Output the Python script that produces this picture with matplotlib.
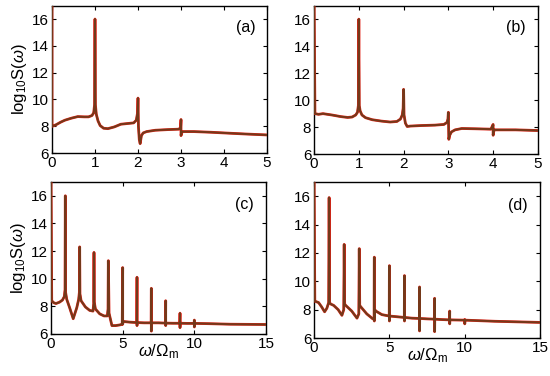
import matplotlib
matplotlib.use('Agg')
import matplotlib.pyplot as plt

plt.rcParams['font.family'] = ['Liberation Sans', 'DejaVu Sans']
plt.rcParams['mathtext.fontset'] = 'custom'
plt.rcParams['mathtext.rm'] = 'Liberation Sans'
plt.rcParams['mathtext.it'] = 'Liberation Sans:italic'

# log10 S(w)
a_x = [0, 0, 0.05, 0.1, 0.2, 0.3, 0.45, 0.6, 0.75, 0.85, 0.93, 0.97, 0.99, 1.0, 1.01, 1.03, 1.07,
       1.12, 1.2, 1.3, 1.45, 1.6, 1.75, 1.9, 1.96, 1.99, 2.0, 2.01, 2.03, 2.05, 2.08, 2.12, 2.2,
       2.4, 2.7, 2.95, 2.99, 3.0, 3.0, 3.02, 3.05, 3.3, 3.7, 4.0, 4.5, 5.0]
a_y = [17.5, 8.0, 8.05, 8.12, 8.3, 8.45, 8.6, 8.72, 8.7, 8.7, 8.8, 9.0, 9.6, 16.0, 9.6, 8.9, 8.4,
       8.05, 7.85, 7.82, 7.95, 8.15, 8.2, 8.25, 8.45, 9.0, 10.1, 8.0, 7.0, 6.7, 7.3, 7.5, 7.6,
       7.7, 7.75, 7.78, 7.9, 8.5, 7.3, 7.55, 7.6, 7.6, 7.55, 7.5, 7.42, 7.35]

b_x = [0, 0.02, 0.1, 0.2, 0.4, 0.6, 0.75, 0.85, 0.93, 0.97, 0.99, 1.0, 1.01, 1.03, 1.07, 1.15,
       1.3, 1.5, 1.7, 1.85, 1.93, 1.97, 1.99, 2.0, 2.01, 2.04, 2.08, 2.15, 2.4, 2.7, 2.9, 2.97,
       2.99, 3.0, 3.01, 3.03, 3.07, 3.15, 3.3, 3.6, 3.95, 4.0, 4.0, 4.02, 4.05, 4.5, 5.0]
b_y = [17.5, 9.0, 8.95, 9.0, 8.9, 8.78, 8.72, 8.75, 8.9, 9.1, 9.6, 16.0, 9.6, 9.2, 8.9, 8.7,
       8.55, 8.45, 8.38, 8.42, 8.6, 8.9, 9.4, 10.8, 8.9, 8.3, 8.05, 8.08, 8.12, 8.15, 8.2, 8.35,
       8.6, 9.1, 7.1, 7.4, 7.65, 7.8, 7.9, 7.88, 7.85, 8.2, 7.4, 7.8, 7.8, 7.8, 7.75]

c_x = [0, 0.05, 0.2, 0.35, 0.6, 0.8, 0.93, 0.98, 1.0, 1.02, 1.1, 1.3, 1.55, 1.8, 1.93, 1.98,
       2.0, 2.02, 2.1, 2.4, 2.7, 2.93, 2.98, 3.0, 3.02, 3.1, 3.4, 3.7, 3.93, 3.98, 4.0, 4.05,
       4.25, 4.5, 4.8, 4.97, 5.0, 5.0, 5.03, 5.5, 5.99, 6.0, 6.0, 6.01, 6.5, 6.99, 7.0, 7.0,
       7.01, 7.5, 7.99, 8.0, 8.0, 8.01, 8.5, 8.99, 9.0, 9.0, 9.01, 9.5, 9.99, 10.0, 10.0, 10.01,
       11.0, 12.5, 15.0]
c_y = [17.5, 8.4, 8.25, 8.2, 8.3, 8.45, 8.7, 9.2, 16.0, 9.0, 8.5, 7.9, 7.1, 7.9, 8.5, 9.0,
       12.3, 8.9, 8.4, 7.95, 7.7, 7.65, 8.2, 11.9, 8.3, 7.8, 7.45, 7.3, 7.3, 7.8, 11.3, 7.5,
       6.6, 6.6, 6.65, 6.7, 10.8, 6.7, 6.9, 6.85, 6.82, 10.1, 6.6, 6.82, 6.8, 6.8, 9.3, 6.2,
       6.8, 6.8, 6.78, 8.4, 6.6, 6.78, 6.77, 6.77, 7.5, 6.45, 6.77, 6.76, 6.76, 7.0, 6.5, 6.76,
       6.74, 6.7, 6.68]

d_x = [0, 0.05, 0.3, 0.5, 0.7, 0.85, 0.97, 1.0, 1.03, 1.1, 1.3, 1.6, 1.85, 1.97, 2.0, 2.03,
       2.1, 2.5, 2.85, 2.97, 3.0, 3.03, 3.1, 3.5, 3.9, 3.99, 4.0, 4.0, 4.03, 4.1, 4.5, 4.99, 5.0,
       5.0, 5.01, 5.5, 5.99, 6.0, 6.0, 6.01, 6.5, 6.99, 7.0, 7.0, 7.01, 7.5, 7.99, 8.0, 8.0, 8.01,
       8.5, 8.99, 9.0, 9.0, 9.01, 9.5, 9.99, 10.0, 10.0, 10.01, 11.0, 12.0, 13.5, 15.0]
d_y = [17.5, 8.6, 8.5, 8.2, 7.85, 8.1, 8.5, 15.9, 8.5, 8.4, 8.3, 8.0, 7.6, 8.0, 12.6, 8.4,
       8.3, 7.9, 7.4, 7.7, 12.3, 8.3, 8.2, 7.7, 7.35, 7.4, 11.7, 7.2, 8.0, 7.9, 7.65, 7.55, 11.1,
       7.2, 7.55, 7.5, 7.45, 10.4, 7.2, 7.45, 7.4, 7.38, 9.6, 6.5, 7.38, 7.35, 7.33, 8.8, 6.45,
       7.33, 7.3, 7.28, 7.9, 7.0, 7.28, 7.27, 7.26, 7.3, 7.0, 7.26, 7.22, 7.18, 7.14, 7.1]

panels = [
    (a_x, a_y, '(a)', [0.0945, 0.593, 0.391, 0.392], 5, [0, 1, 2, 3, 4, 5], True, False),
    (b_x, b_y, '(b)', [0.571, 0.590, 0.407, 0.395], 5, [0, 1, 2, 3, 4, 5], False, False),
    (c_x, c_y, '(c)', [0.0927, 0.112, 0.391, 0.404], 15, [0, 5, 10, 15], True, True),
    (d_x, d_y, '(d)', [0.571, 0.101, 0.411, 0.415], 15, [0, 5, 10, 15], False, True),
]


def draw_panel(fig, x, y, tag, rect, xmax, xticks, ylab, xlab):
    ax = fig.add_axes(rect)
    # red curve underneath, dark brown one on top (both visible as in the figure)
    ax.plot(x, y, color='#e02418', linewidth=2.0, zorder=3)
    ax.plot(x, y, color='#73391a', linewidth=1.4, zorder=3)
    ax.set_xlim(0, xmax)
    ax.set_ylim(6, 17)
    ax.set_xticks(xticks)
    ax.set_yticks([6, 8, 10, 12, 14, 16])
    ax.tick_params(direction='in', top=True, right=True, length=3, width=0.8,
                   labelsize=11, pad=2)
    for s in ax.spines.values():
        s.set_linewidth(1.0)
    ax.text(0.9, 0.85, tag, transform=ax.transAxes, ha='center', va='center', fontsize=11.5)
    if ylab:
        ax.set_ylabel(r'log$_{10}$S($\omega$)', fontsize=12, labelpad=2)
    if xlab:
        ax.set_xlabel(r'$\omega/\Omega_{\rm m}$', fontsize=12, labelpad=-6)
    return ax


if __name__ == '__main__':
    fig = plt.figure(figsize=(5.5, 3.76), dpi=100)
    for p in panels:
        draw_panel(fig, *p)
    fig.savefig('out.png', dpi=100)
